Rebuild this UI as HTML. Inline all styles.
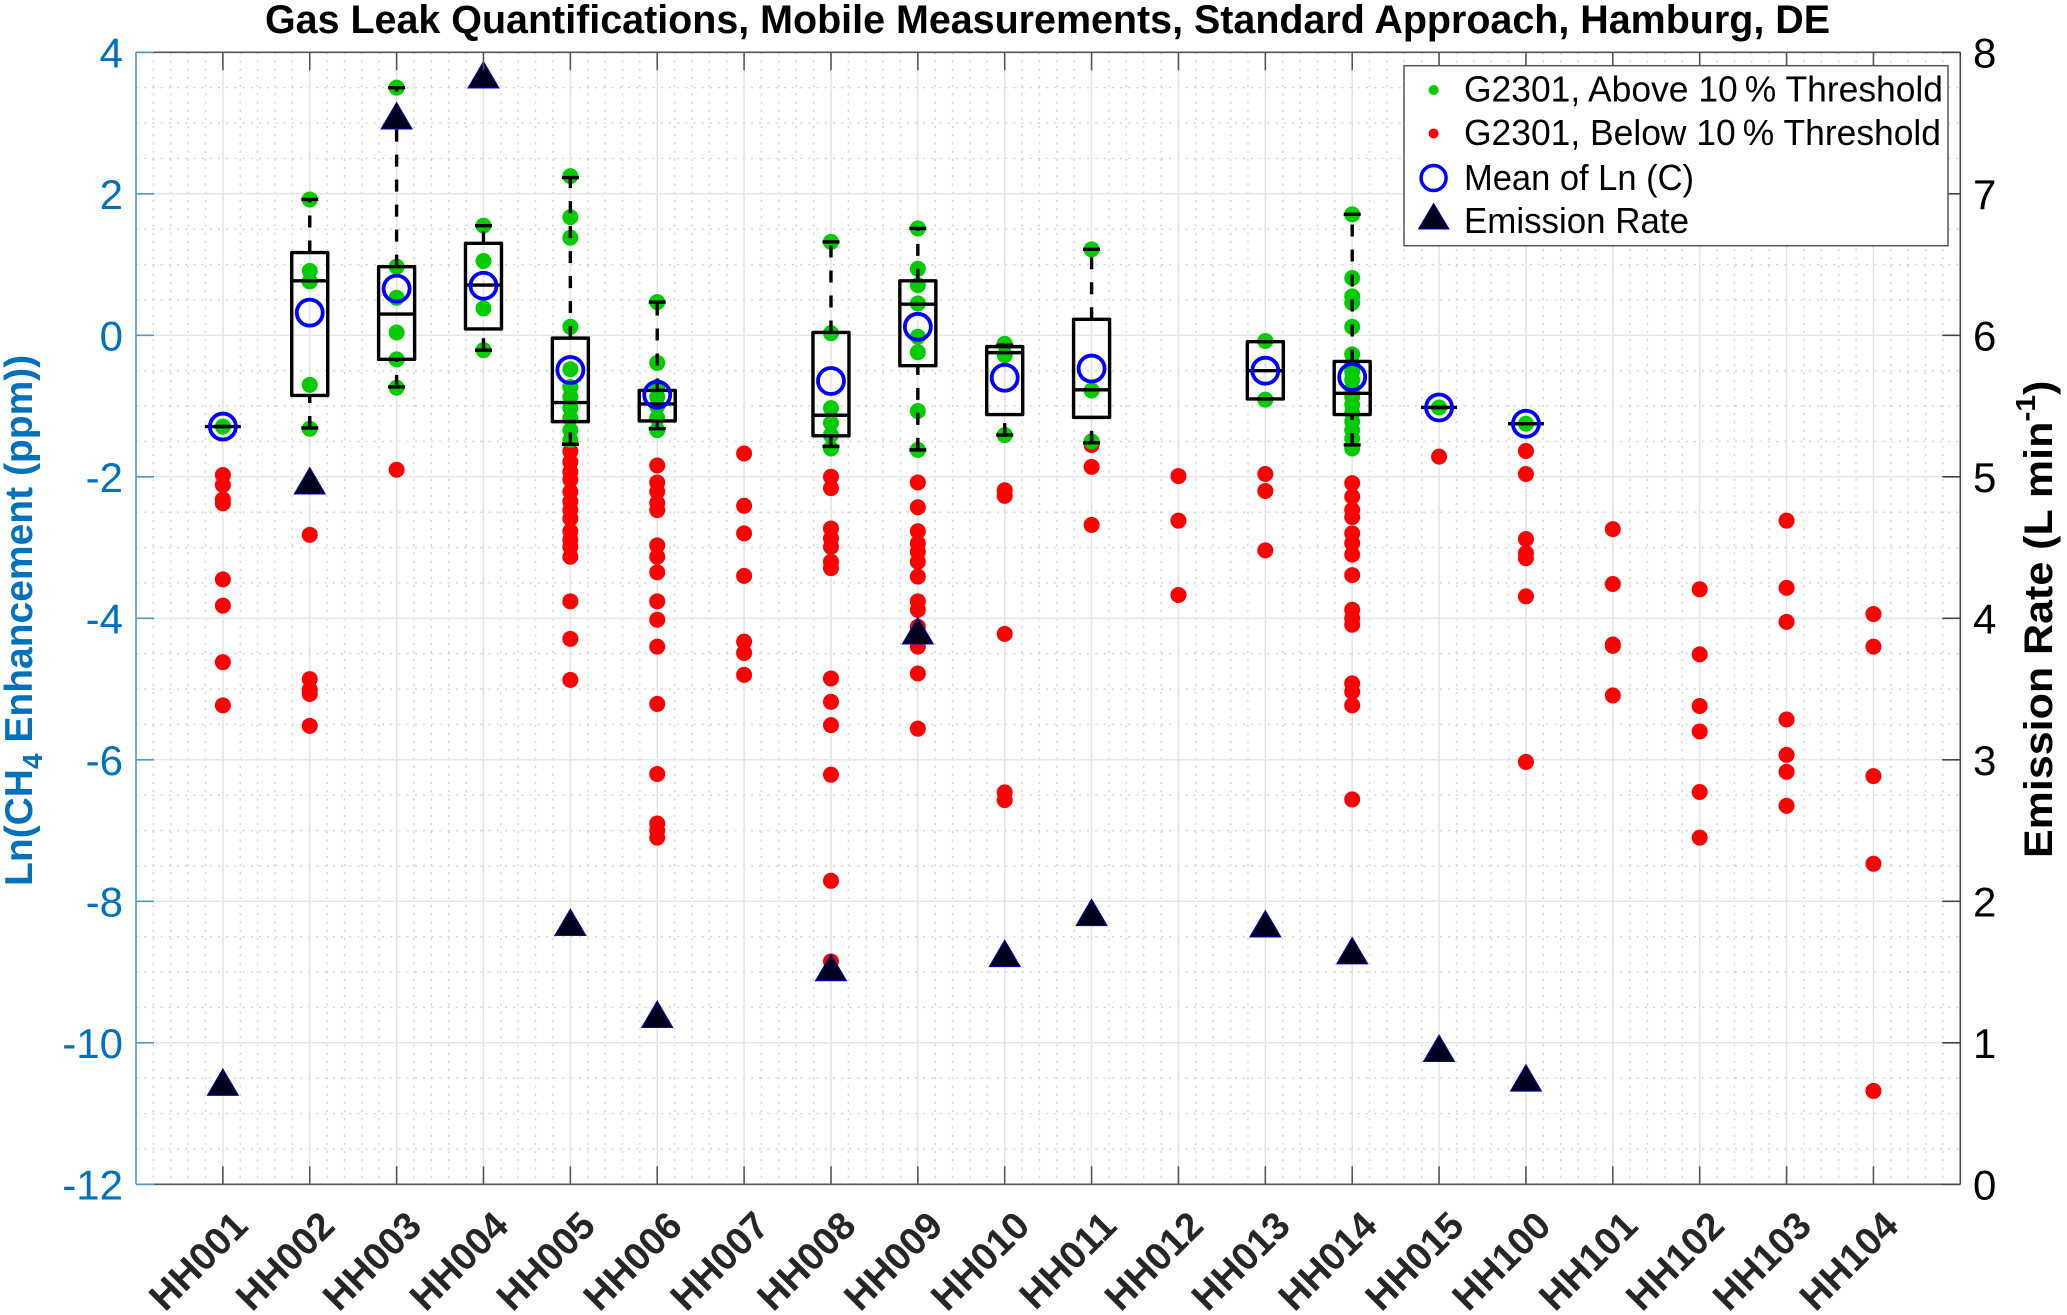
<!DOCTYPE html>
<html lang="en">
<head>
<meta charset="utf-8">
<title>Gas Leak Quantifications</title>
<style>
html,body{margin:0;padding:0;background:#fff;}
svg{display:block;font-family:"Liberation Sans",Arial,sans-serif;}
</style>
</head>
<body>
<svg id="chart" xmlns="http://www.w3.org/2000/svg" width="2067" height="1315" viewBox="0 0 2067 1315">
  <rect x="0" y="0" width="2067" height="1315" fill="#ffffff"/>
  <g id="grid"></g>
  <g id="marks"></g>
  <g id="axes"></g>
  <text x="265" y="33" font-size="40" font-weight="bold" fill="#000" textLength="1565" lengthAdjust="spacingAndGlyphs">Gas Leak Quantifications, Mobile Measurements, Standard Approach, Hamburg, DE</text>
  <text transform="translate(32,886) rotate(-90)" font-size="39" font-weight="bold" fill="#0072BD">Ln(CH<tspan font-size="28" dy="10">4</tspan><tspan dy="-10"> Enhancement (ppm))</tspan></text>
  <text transform="translate(2052,858) rotate(-90) scale(1.075,1)" font-size="40" font-weight="bold" fill="#000">Emission Rate (L min<tspan font-size="28" dy="-17">-1</tspan><tspan dy="17">)</tspan></text>
  <g>
    <rect x="1404" y="65.7" width="544" height="180" fill="#fff" stroke="#555" stroke-width="1.5"/>
    <circle cx="1433.6" cy="90" r="5" fill="#00cc00"/>
    <text x="1464" y="101.7" font-size="36" fill="#000" textLength="479" lengthAdjust="spacingAndGlyphs">G2301, Above 10&#8201;% Threshold</text>
    <circle cx="1433.6" cy="133.5" r="5" fill="#ff0000"/>
    <text x="1464" y="145" font-size="36" fill="#000" textLength="477" lengthAdjust="spacingAndGlyphs">G2301, Below 10&#8201;% Threshold</text>
    <circle cx="1433.6" cy="178" r="12.5" fill="none" stroke="#0000ff" stroke-width="3.5"/>
    <text x="1464" y="190" font-size="36" fill="#000" textLength="230" lengthAdjust="spacingAndGlyphs">Mean of Ln (C)</text>
    <polygon points="1433.6,203.5 1449,229 1418.5,229" fill="#00001a" stroke="#0000cc" stroke-width="1"/>
    <text x="1464" y="233" font-size="36" fill="#000" textLength="225" lengthAdjust="spacingAndGlyphs">Emission Rate</text>
  </g>
</svg>
<script>
const sites = ["HH001","HH002","HH003","HH004","HH005","HH006","HH007","HH008","HH009","HH010","HH011","HH012","HH013","HH014","HH015","HH100","HH101","HH102","HH103","HH104"];
const leftTicks = [4,2,0,-2,-4,-6,-8,-10,-12];
const rightTicks = [0,1,2,3,4,5,6,7,8];
const aboveValues = [
  [-1.29],
  [1.92,0.91,0.76,-0.70,-1.32],
  [3.50,0.97,0.53,0.04,-0.34,-0.74],
  [1.55,1.05,0.38,-0.21],
  [2.25,1.67,1.38,0.12,-0.48,-0.73,-0.87,-1.03,-1.17,-1.34,-1.48],
  [0.47,-0.39,-0.73,-0.87,-1.0,-1.17,-1.34],
  [],
  [1.32,0.03,-1.03,-1.24,-1.41,-1.60],
  [1.51,0.94,0.71,0.45,-0.02,-0.24,-1.07,-1.62],
  [-0.12,-0.28,-1.41],
  [1.215,-0.78,-1.50],
  [],
  [-0.08,-0.91],
  [1.71,0.81,0.55,0.46,0.12,-0.27,-0.40,-0.51,-0.63,-0.75,-0.87,-0.98,-1.10,-1.22,-1.34,-1.46,-1.60],
  [-1.02],
  [-1.25],
  [],[],[],[]
];
const belowValues = [
  [-1.975,-2.116,-2.32,-2.375,-3.45,-3.82,-4.62,-5.23],
  [-2.82,-4.86,-5.01,-5.07,-5.52],
  [-1.90],
  [],
  [-1.64,-1.79,-1.93,-2.04,-2.21,-2.35,-2.47,-2.59,-2.77,-2.89,-2.99,-3.13,-3.76,-4.29,-4.87],
  [-1.84,-2.08,-2.21,-2.37,-2.47,-2.97,-3.13,-3.35,-3.76,-4.02,-4.40,-5.21,-6.20,-6.90,-7.00,-7.10],
  [-1.67,-2.41,-2.80,-3.40,-4.33,-4.49,-4.80],
  [-2.00,-2.16,-2.73,-2.87,-2.99,-3.20,-3.29,-4.85,-5.18,-5.51,-6.21,-7.71,-8.85],
  [-2.08,-2.43,-2.77,-2.94,-3.06,-3.20,-3.41,-3.76,-3.88,-4.12,-4.40,-4.78,-5.56],
  [-2.19,-2.27,-4.22,-6.46,-6.57],
  [-1.55,-1.86,-2.68],
  [-1.99,-2.62,-3.67],
  [-1.96,-2.20,-3.04],
  [-2.09,-2.28,-2.47,-2.57,-2.80,-2.94,-3.10,-3.39,-3.88,-4.00,-4.09,-4.92,-5.04,-5.23,-6.56],
  [-1.715],
  [-1.635,-1.96,-2.88,-3.08,-3.15,-3.69,-6.03],
  [-2.74,-3.515,-4.37,-4.39,-5.09],
  [-3.59,-4.51,-5.24,-5.60,-6.455,-7.10],
  [-2.62,-3.57,-4.05,-5.43,-5.93,-6.17,-6.65],
  [-3.94,-4.40,-6.23,-7.47,-10.68]
];
const boxQ3 = [-1.29,1.17,0.97,1.30,-0.04,-0.78,null,0.04,0.77,-0.16,0.226,null,-0.09,-0.37,-1.02,-1.25,null,null,null,null];
const boxMedian = [-1.29,0.77,0.30,0.71,-0.95,-0.97,null,-1.13,0.44,-0.245,-0.77,null,-0.50,-0.82,-1.02,-1.25,null,null,null,null];
const boxQ1 = [-1.29,-0.85,-0.34,0.09,-1.22,-1.21,null,-1.42,-0.43,-1.12,-1.16,null,-0.90,-1.12,-1.02,-1.25,null,null,null,null];
const whiskerHigh = [-1.29,1.92,3.50,1.55,2.23,0.47,null,1.32,1.51,-0.14,1.215,null,-0.09,1.71,-1.02,-1.25,null,null,null,null];
const whiskerLow = [-1.29,-1.31,-0.73,-0.21,-1.54,-1.32,null,-1.57,-1.62,-1.41,-1.52,null,-0.90,-1.55,-1.02,-1.25,null,null,null,null];
const meanValues = [-1.29,0.32,0.66,0.70,-0.49,-0.84,null,-0.646,0.12,-0.60,-0.47,null,-0.50,-0.59,-1.02,-1.25,null,null,null,null];
const emissionRates = [0.72,4.97,7.55,7.84,1.85,1.20,null,1.53,3.91,1.63,1.92,null,1.84,1.65,0.96,0.75,null,null,null,null];

const NS = "http://www.w3.org/2000/svg";
const plot = {left:136, right:1960.3, top:52.3, bottom:1184.3};
const xMax = 21, yLeftMin = -12, yLeftMax = 4, yRightMin = 0, yRightMax = 8;
function xScale(i){ return plot.left + (i + 1) * (plot.right - plot.left) / xMax; }
function xUnit(u){ return plot.left + u * (plot.right - plot.left) / xMax; }
function yLeft(v){ return plot.bottom - (v - yLeftMin) * (plot.bottom - plot.top) / (yLeftMax - yLeftMin); }
function yRight(v){ return plot.bottom - (v - yRightMin) * (plot.bottom - plot.top) / (yRightMax - yRightMin); }
function mk(tag, attrs, parent){
  const e = document.createElementNS(NS, tag);
  for (const k in attrs) e.setAttribute(k, attrs[k]);
  parent.appendChild(e);
  return e;
}
const grid = document.getElementById("grid");
const marks = document.getElementById("marks");
const axes = document.getElementById("axes");

// minor grid
for (let u = 0; u <= xMax * 5; u++) {
  if (u % 5 === 0) continue;
  const el = mk("line", {x1:xUnit(u/5), x2:xUnit(u/5), y1:plot.top, y2:plot.bottom, stroke:"#d2d2d2", "stroke-width":1.4, "stroke-dasharray":"2 6.2"}, grid);
  
  
}
for (let v = yLeftMin; v <= yLeftMax; v += 0.5) {
  if (v % 2 === 0) continue;
  const el = mk("line", {x1:plot.left, x2:plot.right, y1:yLeft(v), y2:yLeft(v), stroke:"#d2d2d2", "stroke-width":1.4, "stroke-dasharray":"2 6.2"}, grid);
  
  
}
// major grid
sites.forEach((s, i) => {
  const el = mk("line", {x1:xScale(i), x2:xScale(i), y1:plot.top, y2:plot.bottom, stroke:"#e2e2e4", "stroke-width":1.5}, grid);
  
  
});
leftTicks.forEach(v => {
  const el = mk("line", {x1:plot.left, x2:plot.right, y1:yLeft(v), y2:yLeft(v), stroke:"#e3e8ec", "stroke-width":1.5}, grid);
  
  
});

// points
sites.forEach((s, i) => {
  belowValues[i].forEach(v => {
    const el = mk("circle", {cx:xScale(i), cy:yLeft(v), r:8, fill:"#ff0000"}, marks);
    
    
  });
  aboveValues[i].forEach(v => {
    const el = mk("circle", {cx:xScale(i), cy:yLeft(v), r:8, fill:"#00cc00"}, marks);
    
    
  });
});

// boxes
const boxW = 36, capW = 17;
sites.forEach((s, i) => {
  if (boxQ3[i] === null) return;
  const x = xScale(i);
  const common = {stroke:"#000", "stroke-width":3.4, fill:"none"};
  const up = mk("line", Object.assign({x1:x, x2:x, y1:yLeft(boxQ3[i]), y2:yLeft(whiskerHigh[i]), "stroke-dasharray":"12 13"}, common), marks);
  
  
  const low = mk("line", Object.assign({x1:x, x2:x, y1:yLeft(whiskerLow[i]), y2:yLeft(boxQ1[i]), "stroke-dasharray":"12 13"}, common), marks);
  
  
  [whiskerHigh[i], whiskerLow[i]].forEach(v => {
    const cap = mk("line", Object.assign({x1:x - capW/2, x2:x + capW/2, y1:yLeft(v), y2:yLeft(v)}, common), marks);
    
    
  });
  const box = mk("rect", Object.assign({x:x - boxW/2, width:boxW, y:yLeft(boxQ3[i]), height:yLeft(boxQ1[i]) - yLeft(boxQ3[i]), "stroke-linejoin":"round"}, common), marks);
  
  
  const med = mk("line", Object.assign({x1:x - boxW/2, x2:x + boxW/2, y1:yLeft(boxMedian[i]), y2:yLeft(boxMedian[i])}, common), marks);
  
  
});
// means
sites.forEach((s, i) => {
  if (meanValues[i] === null) return;
  const el = mk("circle", {cx:xScale(i), cy:yLeft(meanValues[i]), r:13, fill:"none", stroke:"#0000ff", "stroke-width":3.8}, marks);
  
  
});
// emission rates
sites.forEach((s, i) => {
  if (emissionRates[i] === null) return;
  const x = xScale(i), y = yRight(emissionRates[i]);
  const pts = [x + "," + (y - 13.5), (x + 15.5) + "," + (y + 13), (x - 15.5) + "," + (y + 13)].join(" ");
  const el = mk("polygon", {points:pts, fill:"#00001a", stroke:"#0000cc", "stroke-width":1}, marks);
  
  
});

// axes lines
function axisLine(name, x1, y1, x2, y2, color){
  const el = mk("line", {x1:x1, y1:y1, x2:x2, y2:y2, stroke:color, "stroke-width":1.6}, axes);
  
  
}
axisLine("top-axis-line", plot.left, plot.top, plot.right, plot.top, "#555");
axisLine("bottom-axis-line", plot.left, plot.bottom, plot.right, plot.bottom, "#555");
axisLine("left-axis-line", plot.left, plot.top, plot.left, plot.bottom, "#4f97c9");
axisLine("right-axis-line", plot.right, plot.top, plot.right, plot.bottom, "#444");

const tickLen = 18;
sites.forEach((s, i) => {
  const x = xScale(i);
  axisLine("x-tick-bottom", x, plot.bottom, x, plot.bottom - tickLen, "#555");
  axisLine("x-tick-top", x, plot.top, x, plot.top + tickLen, "#555");
  const t = mk("text", {transform:"translate(" + (x + 27) + ",1228) rotate(-45)", "text-anchor":"end", "font-size":38.5, "font-weight":"bold", fill:"#262626"}, axes);
  t.textContent = s;
  
  
});
leftTicks.forEach(v => {
  const y = yLeft(v);
  axisLine("left-y-tick", plot.left, y, plot.left + tickLen, y, "#4f97c9");
  const t = mk("text", {x:123, y:y + 15, "text-anchor":"end", "font-size":42, fill:"#0072BD"}, axes);
  t.textContent = String(v);
  
  
});
rightTicks.forEach(v => {
  const y = yRight(v);
  axisLine("right-y-tick", plot.right, y, plot.right - tickLen, y, "#444");
  const t = mk("text", {x:1973, y:y + 15, "font-size":42, fill:"#000"}, axes);
  t.textContent = String(v);
  
  
});
</script>
</body>
</html>
